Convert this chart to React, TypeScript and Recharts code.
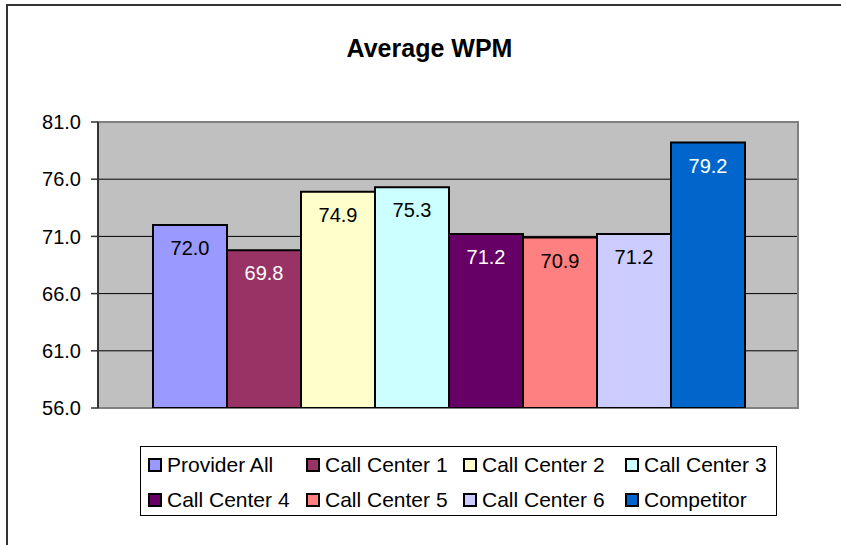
import React, { useLayoutEffect } from "react";
import { BarChart, Bar, XAxis, YAxis, CartesianGrid, LabelList, ReferenceArea } from "recharts";

const seriesNames = ["Provider All", "Call Center 1", "Call Center 2", "Call Center 3", "Call Center 4", "Call Center 5", "Call Center 6", "Competitor"];
const seriesKeys = ["providerAll", "cc1", "cc2", "cc3", "cc4", "cc5", "cc6", "competitor"];
const seriesValues = [72.0, 69.8, 74.9, 75.3, 71.2, 70.9, 71.2, 79.2];
const seriesColors = ["#9999FF", "#993366", "#FFFFCC", "#CCFFFF", "#660066", "#FF8080", "#CCCCFF", "#0066CC"];
const labelColors = ["#000000", "#FFFFFF", "#000000", "#000000", "#FFFFFF", "#000000", "#000000", "#FFFFFF"];
const yTicks = [56, 61, 66, 71, 76, 81];
const category = ["Average WPM"];

const FONT = '"Liberation Sans", Arial, sans-serif';

const row: Record<string, string | number> = { name: category[0] };
seriesKeys.forEach((k, i) => {
  row[k] = seriesValues[i];
});
const data = [row];

const legendCols = [7, 165, 322, 484];

export default function App() {
  useLayoutEffect(() => {
    document.body.style.margin = "0";
  }, []);
  return (
    <div
      style={{
        position: "relative",
        width: 841,
        height: 545,
        overflow: "hidden",
        background: "#FFFFFF",
        fontFamily: FONT,
      }}
    >
      <div
        style={{
          position: "absolute",
          left: 6,
          top: 4,
          width: 1000,
          height: 1000,
          borderLeft: "2px solid #333333",
          borderTop: "2px solid #333333",
          boxSizing: "border-box",
        }}
      />
      <div
        style={{
          position: "absolute",
          left: 329.5,
          top: 36.2,
          width: 200,
          textAlign: "center",
          fontSize: 25,
          lineHeight: "25px",
          fontWeight: "bold",
          color: "#000",
        }}
      >
        Average WPM
      </div>
      <div style={{ position: "absolute", left: 0, top: 0 }}>
        <BarChart
          width={841}
          height={545}
          data={data}
          margin={{ top: 122, right: 43, bottom: 137, left: 0 }}
          barGap={0}
          barCategoryGap={55}
        >
          <CartesianGrid
            vertical={false}
            horizontal={true}
            stroke="#000000"
            strokeWidth={1}
            fill="#C0C0C0"
            fillOpacity={1}
          />
          <ReferenceArea y1={56} y2={81} fill="none" stroke="#808080" strokeWidth={2} ifOverflow="visible" />
          <XAxis
            dataKey="name"
            tick={false}
            tickLine={false}
            height={0}
            axisLine={{ stroke: "#333333", strokeWidth: 2 }}
          />
          <YAxis
            domain={[56, 81]}
            ticks={yTicks}
            allowDataOverflow
            width={98}
            tickSize={7}
            tickMargin={10}
            tickFormatter={(v: number) => v.toFixed(1)}
            tick={{ fontSize: 20, fill: "#000000", fontFamily: FONT }}
            tickLine={{ stroke: "#333333", strokeWidth: 1.5 }}
            axisLine={{ stroke: "#333333", strokeWidth: 2 }}
          />
          {seriesKeys.map((k, i) => (
            <Bar
              key={k}
              dataKey={k}
              name={seriesNames[i]}
              fill={seriesColors[i]}
              stroke="#000000"
              strokeWidth={2}
              isAnimationActive={false}
            >
              <LabelList
                dataKey={k}
                position="insideTop"
                offset={16}
                formatter={(v: number) => Number(v).toFixed(1)}
                style={{ fontSize: 20, fill: labelColors[i], fontFamily: FONT }}
              />
            </Bar>
          ))}
        </BarChart>
      </div>
      <div
        style={{
          position: "absolute",
          left: 140,
          top: 446,
          width: 637,
          height: 70,
          border: "1px solid #000000",
          boxSizing: "border-box",
          background: "#FFFFFF",
        }}
      >
        {seriesNames.map((n, i) => {
          const col = i % 4;
          const r = Math.floor(i / 4);
          return (
            <div key={n}>
              <div
                style={{
                  position: "absolute",
                  left: legendCols[col],
                  top: 11 + r * 35,
                  width: 10,
                  height: 10,
                  border: "2px solid #000000",
                  background: seriesColors[i],
                }}
              />
              <div
                style={{
                  position: "absolute",
                  left: legendCols[col] + 19,
                  top: 7 + r * 35,
                  fontSize: 21,
                  lineHeight: "21px",
                  whiteSpace: "nowrap",
                  color: "#000",
                }}
              >
                {n}
              </div>
            </div>
          );
        })}
      </div>
    </div>
  );
}
